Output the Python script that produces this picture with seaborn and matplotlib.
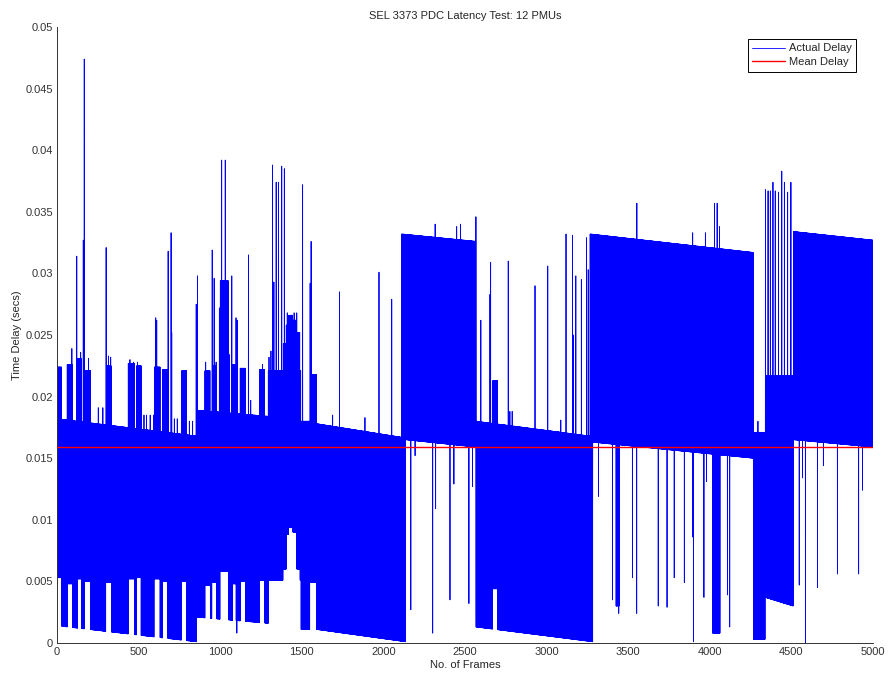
import numpy as np
import pandas as pd
import matplotlib
matplotlib.use("Agg")
import matplotlib.pyplot as plt
import seaborn as sns
from matplotlib.ticker import FormatStrFormatter, MultipleLocator

# The PDC output alternates between two delay streams frame by frame:
# an "upper" stream and a "lower" stream. Each has piecewise base levels
# (start frame, end frame, level at start, level at end).
n_frames = 5000
mean_delay = 0.01588

upper_first = [0, 856, 1295, 1591, 2112, 2568, 3266, 4267, 4340, 4512]
upper_last = [855, 1294, 1590, 2111, 2567, 3265, 4266, 4339, 4511, 5000]
upper_from = [0.0182, 0.0189, 0.0221, 0.0178, 0.0332, 0.0180, 0.0332, 0.0171, 0.0217, 0.0334]
upper_to = [0.0168, 0.0184, 0.0221, 0.0167, 0.0326, 0.0168, 0.0317, 0.0171, 0.0217, 0.0327]

lower_first = [0, 856, 1295, 1591, 2136, 2568, 3284, 4267, 4340, 4512]
lower_last = [855, 1294, 1590, 2135, 2567, 3283, 4266, 4339, 4511, 5000]
lower_from = [0.0014, 0.0021, 0.0051, 0.0011, 0.0165, 0.0013, 0.0163, 0.0003, 0.0037, 0.0165]
lower_to = [0.0001, 0.0016, 0.0051, 0.0001, 0.0159, 0.0001, 0.0150, 0.0003, 0.0030, 0.0159]

# short stretches where both streams jump (nan = stream unchanged)
block_first = [0, 63, 127, 168, 300, 437, 488, 596, 647, 764,
               907, 950, 1000, 1077, 1123, 1242,
               1386, 1405, 1420, 1445, 1470, 1495, 1550, 2670, 3425, 4018]
block_last = [28, 94, 150, 205, 332, 474, 515, 631, 678, 794,
              938, 978, 1050, 1097, 1155, 1272,
              1404, 1419, 1444, 1469, 1488, 1549, 1590, 2700, 3445, 4062]
block_upper = [0.0224, 0.0226, 0.0231, 0.0221, 0.0225, 0.0227, 0.0225, 0.0224, 0.0222, 0.0221,
               0.0221, 0.0225, 0.0294, 0.0226, 0.0223, 0.0222,
               0.0243, 0.0258, 0.0266, 0.0262, 0.0252, 0.0180, 0.0218, 0.0213, np.nan, np.nan]
block_lower = [0.0053, 0.0048, 0.0052, 0.0050, 0.0049, 0.0052, 0.0053, 0.0052, 0.0050, 0.0050,
               0.0047, 0.0049, 0.0058, 0.0048, 0.0050, 0.0051,
               0.0060, 0.0088, 0.0094, 0.0090, 0.0060, 0.0011, 0.0049, 0.0044, 0.0030, 0.0008]

# single-frame excursions
spike_up_frame = [90, 121, 145, 161, 166, 192, 253, 280, 300, 314, 329, 447, 468, 492,
                  533, 549, 570, 590, 605, 611, 680, 698, 702, 719, 737, 811, 831, 852,
                  860, 911, 950, 962, 974, 995, 1009, 1031, 1056, 1070, 1097, 1105, 1141,
                  1172, 1187, 1258, 1299, 1310, 1321, 1329, 1342, 1356, 1377, 1393, 1411,
                  1452, 1469, 1505, 1550, 1556, 1689, 1730, 1887, 1973, 2050,
                  2316, 2449, 2472, 2567, 2597, 2653, 2657, 2765, 2775, 2789, 2929, 3006,
                  3086, 3119, 3158, 3164, 3178, 3213, 3245, 3255, 3552, 3894, 3972, 4028,
                  4044, 4058, 4295, 4340, 4356, 4370, 4386, 4401, 4421, 4441, 4456, 4476, 4496]
spike_up_value = [0.0239, 0.0314, 0.0236, 0.0327, 0.0474, 0.0231, 0.0191, 0.0191, 0.0321, 0.0233,
                  0.0232, 0.0230, 0.0228, 0.0228, 0.0185, 0.0185, 0.0185, 0.0185, 0.0264, 0.0262,
                  0.0318, 0.0333, 0.0252, 0.0182, 0.0182, 0.0180, 0.0180, 0.0275,
                  0.0298, 0.0228, 0.0319, 0.0296, 0.0228, 0.0272, 0.0392, 0.0392, 0.0234, 0.0298,
                  0.0264, 0.0262, 0.0223, 0.0315, 0.0197, 0.0226, 0.0232, 0.0237, 0.0388, 0.0293,
                  0.0374, 0.0374, 0.0387, 0.0385, 0.0268, 0.0268, 0.0268, 0.0372, 0.0292, 0.0326,
                  0.0185, 0.0285, 0.0183, 0.0301, 0.0279,
                  0.0340, 0.0338, 0.0340, 0.0346, 0.0262, 0.0283, 0.0309, 0.0310, 0.0188, 0.0188,
                  0.0290, 0.0306, 0.0181, 0.0332, 0.0331, 0.0250, 0.0298, 0.0295, 0.0329, 0.0303,
                  0.0357, 0.0333, 0.0333, 0.0357, 0.0357, 0.0338, 0.0180, 0.0368, 0.0367, 0.0367,
                  0.0374, 0.0367, 0.0366, 0.0383, 0.0374, 0.0366, 0.0374]

spike_down_frame = [1101, 2167, 2193, 2301, 2320, 2407, 2431, 2523, 2545,
                    3318, 3404, 3435, 3442, 3526, 3552, 3684, 3737, 3782, 3844, 3895, 3899,
                    3963, 3979, 4108, 4121, 4548, 4568, 4585, 4660, 4696, 4782, 4912, 4936]
spike_down_value = [0.0008, 0.0027, 0.0152, 0.0008, 0.0109, 0.0035, 0.0129, 0.0032, 0.0127,
                    0.0119, 0.0035, 0.0035, 0.0024, 0.0053, 0.0024, 0.0030, 0.0029, 0.0053,
                    0.0049, 0.0086, 0.0001, 0.0037, 0.0131, 0.0039, 0.0013, 0.0047, 0.0134,
                    0.0000, 0.0045, 0.0144, 0.0056, 0.0056, 0.0124]

frames = np.arange(1, n_frames + 1)


def stream(first, last, v_from, v_to):
    out = np.full(n_frames, np.nan)
    for s, e, a, b in zip(first, last, v_from, v_to):
        m = (frames >= s) & (frames <= e)
        out[m] = np.linspace(a, b, m.sum())
    return out


upper = stream(upper_first, upper_last, upper_from, upper_to)
lower = stream(lower_first, lower_last, lower_from, lower_to)
for s, e, u, l in zip(block_first, block_last, block_upper, block_lower):
    m = (frames >= s) & (frames <= e)
    if not np.isnan(u):
        upper[m] = u
    if not np.isnan(l):
        lower[m] = l

delay = np.where(frames % 2 == 1, upper, lower)
for f, v in zip(spike_up_frame, spike_up_value):
    i = f - 1 if f % 2 == 1 else f      # odd frames carry the upper stream
    delay[min(i, n_frames - 1)] = v
for f, v in zip(spike_down_frame, spike_down_value):
    i = f - 1 if f % 2 == 0 else f
    delay[min(i, n_frames - 1)] = v

df = pd.DataFrame({"frame": frames, "delay": delay})
mean_df = pd.DataFrame({"frame": [0, n_frames], "delay": [mean_delay, mean_delay]})

sns.set_style("white")
plt.rcParams["font.family"] = ["Liberation Sans", "DejaVu Sans"]
plt.rcParams["font.size"] = 8

fig = plt.figure(figsize=(8.88, 6.77), dpi=100)
ax = fig.add_axes([57 / 888, 34 / 677, 816 / 888, 616 / 677])

sns.lineplot(data=df, x="frame", y="delay", ax=ax, color=(0, 0, 1), linewidth=0.6,
             sort=False, estimator=None, label="Actual Delay")
sns.lineplot(data=mean_df, x="frame", y="delay", ax=ax, color=(1, 0, 0), linewidth=1.0,
             sort=False, estimator=None, label="Mean Delay", zorder=5)

ax.set_xlim(0, 5000)
ax.set_ylim(0, 0.05)
ax.xaxis.set_major_locator(MultipleLocator(500))
ax.yaxis.set_major_locator(MultipleLocator(0.005))
ax.yaxis.set_major_formatter(FormatStrFormatter("%g"))
ax.tick_params(direction="in", length=4, width=0.6, colors="#333333", labelsize=8, pad=3)
for side in ["top", "right"]:
    ax.spines[side].set_visible(False)
for side in ["left", "bottom"]:
    ax.spines[side].set_color("#333333")
    ax.spines[side].set_linewidth(0.7)

ax.set_title("SEL 3373 PDC Latency Test: 12 PMUs", fontsize=8, pad=6)
ax.set_xlabel("No. of Frames", fontsize=8, labelpad=2)
ax.set_ylabel("Time Delay (secs)", fontsize=8, labelpad=2)

leg = ax.legend(loc="upper right", bbox_to_anchor=(856 / 888, 1 - 39 / 677),
                bbox_transform=fig.transFigure, borderaxespad=0, fontsize=8,
                fancybox=False, framealpha=1, edgecolor="black", handlelength=3,
                handletextpad=0.3, labelspacing=0.35, borderpad=0.4)
leg.get_frame().set_linewidth(0.7)

fig.savefig("out.png", dpi=100)
